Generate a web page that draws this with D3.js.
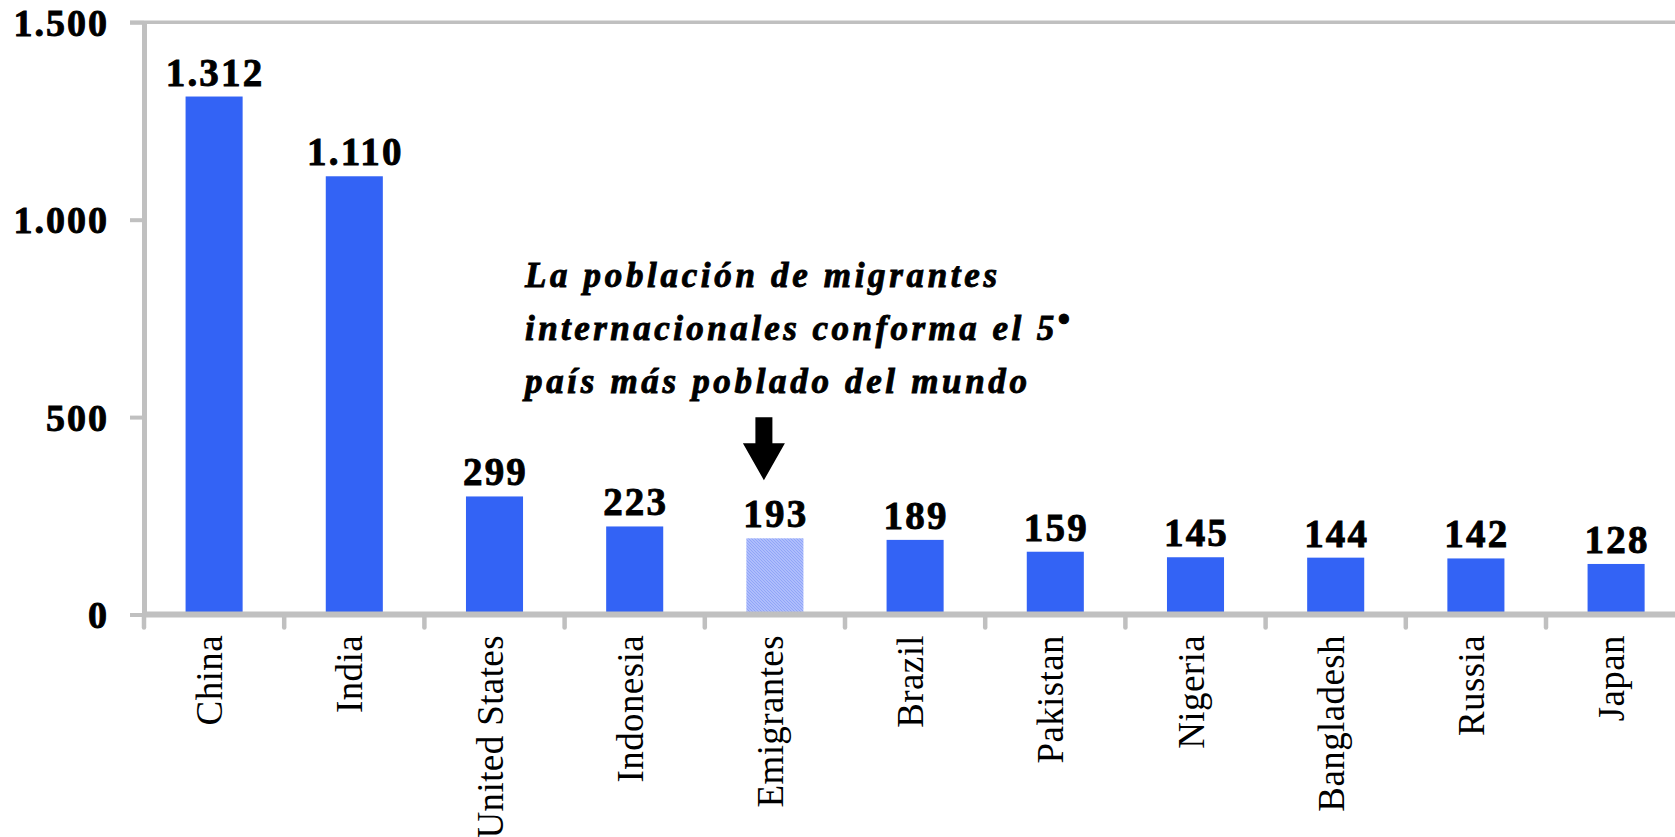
<!DOCTYPE html>
<html>
<head>
<meta charset="utf-8">
<script src="https://cdn.jsdelivr.net/npm/d3@7"></script>
<style>
  body { margin: 0; background: #fff; }
  text { font-family: "Liberation Serif", "Times New Roman", serif; }
  .heavy { stroke: #000; stroke-width: 0.9px; }
</style>
</head>
<body>
<div id="chart"></div>
<script>
var categories = ["China", "India", "United States", "Indonesia", "Emigrantes", "Brazil", "Pakistan", "Nigeria", "Bangladesh", "Russia", "Japan"];
var population = [1312, 1110, 299, 223, 193, 189, 159, 145, 144, 142, 128];
var yTicks = [0, 500, 1000, 1500];
var highlight = "Emigrantes";
var noteLines = ["La población de migrantes", "internacionales conforma el 5", "país más poblado del mundo"];

var width = 1675, height = 837;
var barColor = "#3363f5", axisColor = "#c0c0c0";

// numbers written the spanish way: 1.312
var es = d3.formatLocale({decimal: ",", thousands: ".", grouping: [3], currency: ["", ""]});
var fmt = es.format(",d");

var svg = d3.select("#chart").append("svg")
    .attr("width", width).attr("height", height);

var defs = svg.append("defs");
var pat = defs.append("pattern").attr("id", "dots")
    .attr("width", 3).attr("height", 3).attr("patternUnits", "userSpaceOnUse");
pat.append("rect").attr("width", 3).attr("height", 3).attr("fill", "#aebdfc");
pat.append("rect").attr("x", 0).attr("y", 0).attr("width", 1).attr("height", 1).attr("fill", "#90a5f7");
pat.append("rect").attr("x", 1).attr("y", 1).attr("width", 1).attr("height", 1).attr("fill", "#90a5f7");
pat.append("rect").attr("x", 2).attr("y", 2).attr("width", 1).attr("height", 1).attr("fill", "#90a5f7");

var step = 140.2;
var x = d3.scaleBand().domain(categories)
    .range([144, 144 + categories.length * step])
    .paddingInner(0.593).paddingOuter(0.2965);
var y = d3.scaleLinear().domain([0, 1500]).range([614.5, 22.3]);

// top border of the plot
svg.append("line")
    .attr("x1", 130).attr("x2", width)
    .attr("y1", y(1500)).attr("y2", y(1500))
    .attr("stroke", axisColor).attr("stroke-width", 3.5);

// bars
svg.selectAll("rect.bar").data(categories).enter().append("rect")
    .attr("class", "bar")
    .attr("x", function(d) { return x(d); })
    .attr("width", x.bandwidth())
    .attr("y", function(d, i) { return y(population[i]); })
    .attr("height", function(d, i) { return y(0) - y(population[i]); })
    .attr("fill", function(d) { return d == highlight ? "url(#dots)" : barColor; });

// y axis
var yAxis = svg.append("g")
    .attr("transform", "translate(144,0)")
    .call(d3.axisLeft(y).tickValues(yTicks).tickSize(14).tickSizeOuter(0).tickPadding(21).tickFormat(fmt));
yAxis.select(".domain").attr("stroke", axisColor).attr("stroke-width", 5);
yAxis.selectAll(".tick line").attr("stroke", axisColor).attr("stroke-width", 4);
yAxis.selectAll(".tick text")
    .attr("class", "heavy")
    .attr("fill", "#000").attr("dy", "0.34em")
    .style("font-family", "'Liberation Serif', 'Times New Roman', serif")
    .style("font-size", "38px").style("font-weight", "bold").style("letter-spacing", "2px");

// x axis line and ticks between the categories
svg.append("line")
    .attr("x1", 144).attr("x2", width)
    .attr("y1", y(0)).attr("y2", y(0))
    .attr("stroke", axisColor).attr("stroke-width", 6);
svg.selectAll("line.xtick").data(d3.range(categories.length + 1)).enter().append("line")
    .attr("class", "xtick")
    .attr("x1", function(i) { return x.range()[0] + i * x.step(); })
    .attr("x2", function(i) { return x.range()[0] + i * x.step(); })
    .attr("y1", y(0)).attr("y2", y(0) + 13)
    .attr("stroke", axisColor).attr("stroke-width", 4.5).attr("stroke-linecap", "round");

// category names, rotated
svg.selectAll("text.cat").data(categories).enter().append("text")
    .attr("class", "cat")
    .attr("transform", function(d) { return "translate(" + (x(d) + x.bandwidth() / 2 + 8) + ",635) rotate(-90)"; })
    .attr("text-anchor", "end")
    .style("font-size", "37px").style("letter-spacing", "0.4px")
    .text(function(d) { return d; });

// value labels
svg.selectAll("text.val").data(categories).enter().append("text")
    .attr("class", "val heavy")
    .attr("x", function(d) { return x(d) + x.bandwidth() / 2 + 1; })
    .attr("y", function(d, i) { return y(population[i]) - 11; })
    .attr("text-anchor", "middle")
    .style("font-size", "39px").style("font-weight", "bold").style("letter-spacing", "2.2px")
    .text(function(d, i) { return fmt(population[i]); });

// note and arrow pointing at the emigrants bar
var hx = x(highlight) + x.bandwidth() / 2;
var note = svg.append("g").attr("class", "heavy")
    .style("font-size", "35px").style("font-weight", "bold").style("font-style", "italic");
var widths = [472, 545, 502];
noteLines.forEach(function(line, i) {
  var t = note.append("text")
      .attr("x", 525).attr("y", 286.5 + i * 53)
      .attr("textLength", widths[i]).attr("lengthAdjust", "spacing")
      .text(line);
  if (i == 1) t.append("tspan").attr("dy", -9).style("font-style", "normal").text("•");
});

var ax = hx - 11, tip = y(193) - 58;
svg.append("path")
    .attr("d", "M" + (ax - 8.5) + "," + (tip - 63) + "H" + (ax + 8.5) + "V" + (tip - 37) +
               "H" + (ax + 21) + "L" + ax + "," + tip + "L" + (ax - 21) + "," + (tip - 37) +
               "H" + (ax - 8.5) + "Z")
    .attr("fill", "#000");
</script>
</body>
</html>
